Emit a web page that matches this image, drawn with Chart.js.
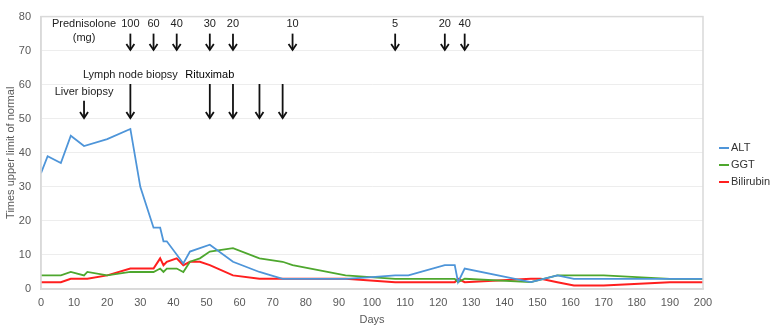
<!DOCTYPE html>
<html>
<head>
<meta charset="utf-8">
<script src="https://cdn.jsdelivr.net/npm/chart.js@4/dist/chart.umd.min.js"></script>
<style>
html,body{margin:0;padding:0;background:#fff;}
#wrap{width:773px;height:330px;position:relative;}
</style>
</head>
<body>
<div id="wrap"><canvas id="c" width="773" height="330"></canvas></div>
<script>
// ---- data ----
const altDays = [0,2,6,9,13,20,27,30,34,36,37,38,43,45,51,58,66,73,92,100,107,111,122,125,126,128,148,156,161,200];
const altValues = [34,39,37,45,42,44,47,30,18,18,14,14,7.5,11,13,8,5,3,3,3.5,4,4,7,7,2,6,2,4,3,3];

const ggtDays = [0,6,9,13,14,20,27,34,36,37,38,41,43,45,48,51,58,66,73,76,92,107,125,126,128,148,156,170,190,200];
const ggtValues = [4,4,5,4,5,4,5,5,6,5,6,6,5,8,9,11,12,9,8,7,4,3,3,2,3,2,4,4,3,3];

const biliDays = [0,6,9,14,20,27,34,36,37,38,41,43,45,48,51,58,66,92,107,125,126,128,148,151,156,161,170,190,200];
const biliValues = [2,2,3,3,4,6,6,9,7,8,9,7,8,8,7,4,3,3,2,2,3,2,3,3,2,1,1,2,2];

const seriesNames = ['ALT','GGT','Bilirubin'];
const seriesColors = ['#4E95D9','#4EA72E','#FF1F1F'];

const prednisoloneDays = [27,34,41,51,58,76,107,122,128];
const prednisoloneDoses = ['100','60','40','30','20','10','5','20','40'];
const rituximabDays = [51,58,66,73];
const liverBiopsyDay = 13;
const lymphNodeBiopsyDay = 27;

const xTicksStep = 10;
const yTicksStep = 10;

// ---- build ----
function pts(xs, ys){ return xs.map((x,i)=>({x:x,y:ys[i]})); }

const FONT = '"Liberation Sans", Arial, sans-serif';

const annotPlugin = {
  id:'annot',
  afterDatasetsDraw(chart){
    const ctx = chart.ctx, xs = chart.scales.x, ys = chart.scales.y;
    const X = v => xs.getPixelForValue(v), Y = v => ys.getPixelForValue(v);
    ctx.save();
    function arrow(x, y1, y2){
      ctx.strokeStyle = '#111'; ctx.lineWidth = 1.8; ctx.lineCap='butt';
      ctx.beginPath(); ctx.moveTo(x, y1); ctx.lineTo(x, y2); ctx.stroke();
      ctx.beginPath(); ctx.moveTo(x-4, y2-6); ctx.lineTo(x, y2); ctx.lineTo(x+4, y2-6); ctx.stroke();
    }
    ctx.fillStyle = '#222';
    ctx.font = '11px ' + FONT;
    ctx.textAlign = 'center'; ctx.textBaseline = 'middle';
    // Prednisolone
    ctx.fillText('Prednisolone', X(13), Y(77.9));
    ctx.fillText('(mg)', X(13), Y(73.6));
    prednisoloneDays.forEach((d,i)=>{
      ctx.fillText(prednisoloneDoses[i], X(d), Y(77.9));
      arrow(X(d), Y(75), Y(70.2));
    });
    // biopsies
    ctx.fillText('Liver biopsy', X(liverBiopsyDay), Y(58));
    arrow(X(liverBiopsyDay), Y(55.3), Y(50.2));
    ctx.fillText('Lymph node biopsy', X(lymphNodeBiopsyDay), Y(62.9));
    arrow(X(lymphNodeBiopsyDay), Y(60.2), Y(50.2));
    ctx.fillStyle = '#000';
    ctx.font = '500 11px ' + FONT;
    ctx.fillText('Rituximab', X(rituximabDays[0]), Y(62.9));
    rituximabDays.forEach(d => arrow(X(d), Y(60.2), Y(50.2)));
    // plot border
    const a = chart.chartArea;
    ctx.strokeStyle = '#D9D9D9'; ctx.lineWidth = 1.5;
    ctx.strokeRect(a.left, a.top, a.right - a.left, a.bottom - a.top);
    // legend
    ctx.font = '11px ' + FONT; ctx.textAlign='left'; ctx.fillStyle='#333';
    const ly = [148,165,182];
    chart.data.datasets.forEach((ds,i)=>{
      ctx.strokeStyle = ds.borderColor; ctx.lineWidth = 2;
      ctx.beginPath(); ctx.moveTo(719, ly[i]); ctx.lineTo(729, ly[i]); ctx.stroke();
      ctx.fillText(ds.label, 731, ly[i]);
    });
    ctx.restore();
  }
};

new Chart(document.getElementById('c'), {
  type:'line',
  data:{
    datasets:[
      {label:seriesNames[0], data:pts(altDays, altValues), borderColor:seriesColors[0], backgroundColor:seriesColors[0], borderWidth:1.8},
      {label:seriesNames[1], data:pts(ggtDays, ggtValues), borderColor:seriesColors[1], backgroundColor:seriesColors[1], borderWidth:1.8},
      {label:seriesNames[2], data:pts(biliDays, biliValues), borderColor:seriesColors[2], backgroundColor:seriesColors[2], borderWidth:2}
    ]
  },
  options:{
    responsive:false, animation:false,
    layout:{padding:{top:8,right:70,left:0,bottom:0}},
    elements:{point:{radius:0}, line:{tension:0}},
    plugins:{legend:{display:false}, tooltip:{enabled:false}},
    scales:{
      x:{type:'linear', min:0, max:200,
        ticks:{stepSize:xTicksStep, color:'#595959', font:{family:FONT, size:11}, padding:7, maxRotation:0},
        grid:{display:false, drawTicks:false},
        border:{display:true, color:'#D9D9D9', width:1.5},
        title:{display:true, text:'Days', color:'#595959', font:{family:FONT, size:11}, padding:{top:2,bottom:3}},
        afterFit(s){ s.height = 41; }
      },
      y:{min:0, max:80,
        ticks:{stepSize:yTicksStep, color:'#595959', font:{family:FONT, size:11}, padding:10},
        grid:{color:'#EDEDED', drawTicks:false},
        border:{display:true, color:'#D9D9D9', width:1.5},
        title:{display:true, text:'Times upper limit of normal', color:'#595959', font:{family:FONT, size:11}, padding:{top:4,bottom:2}},
        afterFit(s){ s.width = 41; }
      }
    }
  },
  plugins:[annotPlugin]
});
</script>
</body>
</html>
